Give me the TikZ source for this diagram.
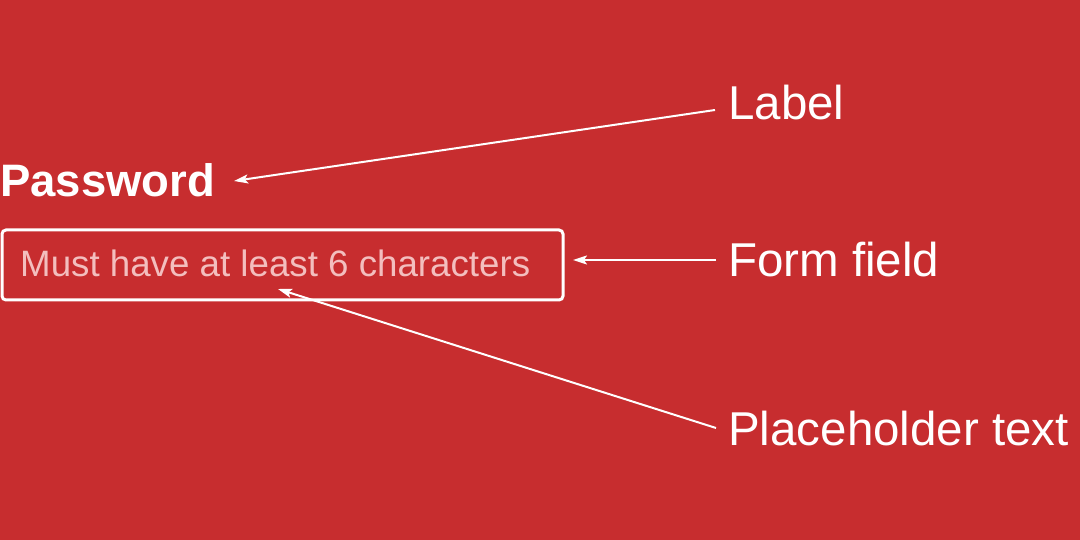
\documentclass[tikz,border=0pt]{standalone}
\usepackage{fontspec}
\setmainfont{Liberation Sans}
\usetikzlibrary{arrows.meta}
\definecolor{bgred}{RGB}{199,45,47}
\definecolor{phpink}{RGB}{243,190,190}
\tikzset{
  callout/.style={font=\fontsize{47.5}{50}\selectfont, text=white, anchor=base west, inner sep=0pt},
  pointer/.style={draw=white, line width=2pt, -{Stealth[length=14pt,width=9pt,inset=3pt]}},
}
\begin{document}
\begin{tikzpicture}[x=1pt,y=-1pt]
\fill[bgred] (0,0) rectangle (1080,540);
\useasboundingbox (0,0) rectangle (1080,540);
\node[font=\bfseries\fontsize{45.5}{50}\selectfont, text=white, anchor=base west, inner sep=0pt] (password) at (0,197) {Password};
\draw[white, line width=3pt, rounded corners=4pt] (2,230) rectangle (563,300);
\node[inner sep=0pt, minimum width=561pt, minimum height=70pt] (field) at (282.5,265) {};
\node[font=\fontsize{36.7}{40}\selectfont, text=phpink, anchor=base west, inner sep=0pt] (ph) at (20,277) {Must have at least 6 characters};
\node[callout] (lab1) at (728,120) {Label};
\node[callout] (lab2) at (728,277) {Form field};
\node[callout] (lab3) at (728,445) {Placeholder text};
\coordinate (labtip) at (234,181);
\coordinate (fieldtip) at (573,260);
\coordinate (phtip) at (278,289);
\draw[pointer] (715,110) -- (labtip);
\draw[pointer] (716,260) -- (fieldtip);
\draw[pointer] (716,428) -- (phtip);
\end{tikzpicture}
\end{document}
